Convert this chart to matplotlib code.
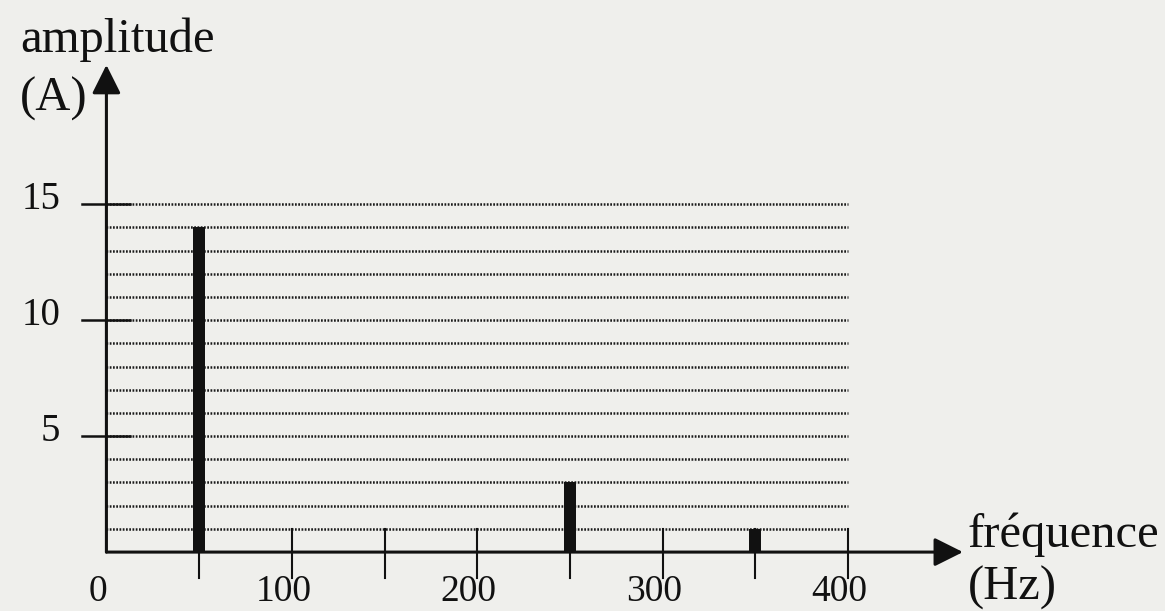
import matplotlib.pyplot as plt

# ====== Spectrum data ======
freqs = [50, 250, 350]          # Hz
amps = [14, 3, 1]               # A
grid_levels = list(range(1, 16))
x_ticks = [0, 100, 200, 300, 400]
x_minor = [50, 100, 150, 200, 250, 300, 350, 400]
y_ticks = [5, 10, 15]

ink = "#111111"
paper = "#efefec"
plt.rcParams["font.family"] = ["Liberation Serif", "DejaVu Serif"]

fig = plt.figure(figsize=(11.65, 6.11), dpi=100, facecolor=paper)
ax = fig.add_axes([0, 0, 1, 1])
ax.set_facecolor(paper)
ax.set_xlim(-57.4, 571)
ax.set_ylim(-2.54, 23.8)
ax.axis("off")

# dotted horizontal guide lines
for lv in grid_levels:
    ax.plot([0, 400], [lv, lv], color="#1a1a1a", lw=1.8,
            linestyle=(0, (0.7, 0.6)), zorder=1)

# bars
ax.bar(freqs, amps, width=6.6, color=ink, zorder=3)

# axes with arrows
ax.annotate("", xy=(462, 0), xytext=(0, 0),
            arrowprops=dict(arrowstyle="-|>,head_length=0.8,head_width=0.4",
                            mutation_scale=22, color=ink, lw=2.2,
                            shrinkA=0, shrinkB=0), zorder=4)
ax.annotate("", xy=(0, 21.0), xytext=(0, 0),
            arrowprops=dict(arrowstyle="-|>,head_length=0.8,head_width=0.4",
                            mutation_scale=22, color=ink, lw=2.2,
                            shrinkA=0, shrinkB=0), zorder=4)

# x ticks
for xt in x_minor:
    ax.plot([xt, xt], [1, -1.1], color=ink, lw=1.5, zorder=2)
for xt in x_ticks:
    ax.text(xt - 4.5, -2.12, str(xt), ha="center", va="baseline",
            fontsize=27, color=ink)

# y ticks
for yt in y_ticks:
    ax.plot([-13.2, 12.7], [yt, yt], color=ink, lw=1.8, zorder=2)
    ax.text(-25, yt + 0.2, str(yt), ha="right", va="center",
            fontsize=28, color=ink)

# axis labels
ax.text(-46.7, 21.55, "amplitude", ha="left", va="baseline",
        fontsize=35, color=ink)
ax.text(-46.7, 19.05, "(A)", ha="left", va="baseline",
        fontsize=35, color=ink)
ax.text(464.7, 0.2, "fréquence", ha="left", va="baseline",
        fontsize=35, color=ink)
ax.text(464.7, -2.07, "(Hz)", ha="left", va="baseline",
        fontsize=35, color=ink)

fig.savefig("out.png", dpi=100, facecolor=paper)
